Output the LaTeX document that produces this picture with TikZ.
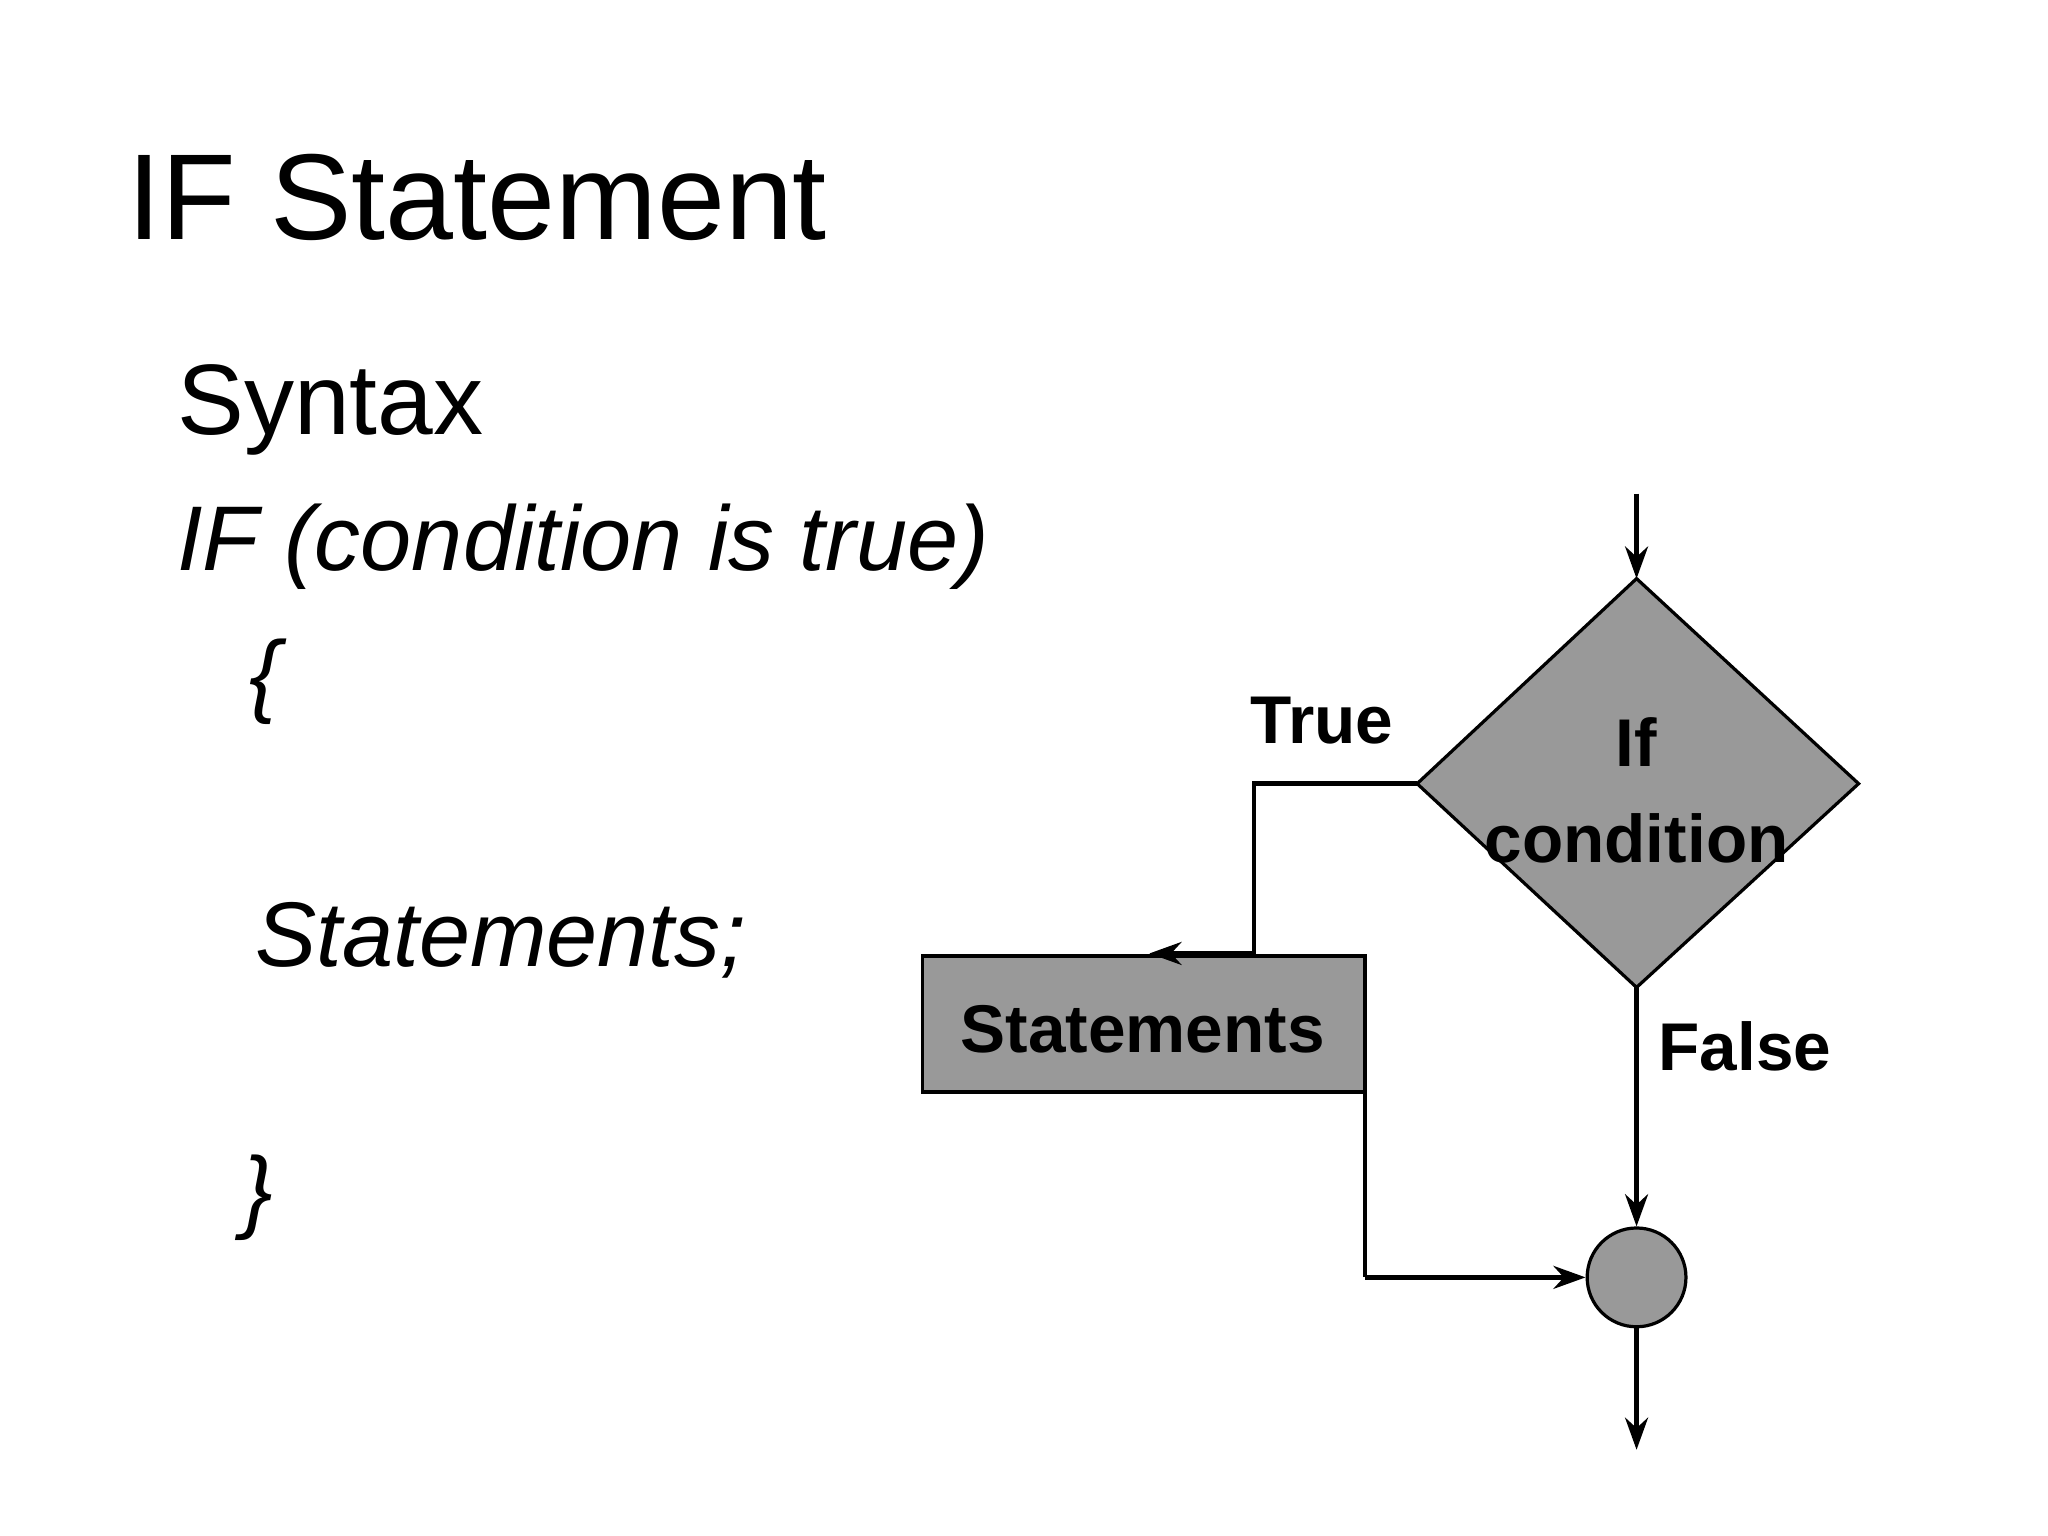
\documentclass[tikz,border=0pt]{standalone}
\usepackage{fontspec}
\setmainfont{Liberation Sans}
\usetikzlibrary{arrows.meta}
\begin{document}
\begin{tikzpicture}[x=0.01cm,y=-0.01cm,
  ln/.style={line width=1pt},
  arr/.style={ln,-{Stealth[length=7pt,width=5pt]}},
  shp/.style={draw,line width=0.7pt,fill=black!40},
  lbl/.style={font=\fontsize{14.7}{18}\selectfont\bfseries,align=center,inner sep=0pt},
  txt/.style={anchor=base west,inner sep=0pt}]
\useasboundingbox (0,0) rectangle (1568,1176);
\node[txt,font=\fontsize{26.6}{30}\selectfont] (title) at (97,183) {IF Statement};
\node[txt,font=\fontsize{21.8}{26}\selectfont] (syn) at (135,333) {Syntax};
\node[txt,font=\fontsize{20}{24}\selectfont\itshape] (ifl) at (135,437) {IF (condition is true)};
\node[txt,font=\fontsize{20}{24}\selectfont\itshape] (ob) at (190,540) {\{};
\node[txt,font=\fontsize{20}{24}\selectfont\itshape] (st) at (195,740) {Statements;};
\node[txt,font=\fontsize{20}{24}\selectfont\itshape] (cb) at (185,935) {\}};
% shapes
\draw[shp] (1253,443) -- (1423,600) -- (1253,756) -- (1085,600) -- cycle;
\coordinate (dtop) at (1253,443);
\coordinate (dbot) at (1253,756);
\coordinate (dleft) at (1085,600);
\node[lbl] (cond) at (1253,605) {If\\[3pt]condition};
\draw[shp] (706,732) rectangle (1045,836);
\node[lbl] (stm) at (875,788) {Statements};
\node[shp,circle,minimum size=76\pgflinewidth,inner sep=0pt,minimum size=2.16cm*0.35] (join) at (1253,978) {};
\coordinate (start) at (1253,378);
\coordinate (tin) at (880,730);
\coordinate (tout) at (880,836);
\coordinate (cl) at (1045,978);
\coordinate (endp) at (1253,1110);
% connectors
\draw[arr] (start) -- (dtop);
\draw[arr] (dleft) -- (960,600) -- (960,730) -- (tin);
\draw[ln] (tout) -- (1045,836) -- (cl);
\draw[arr] (cl) -- (join.west);
\draw[arr] (dbot) -- (join.north);
\draw[arr] (join.south) -- (endp);
\node[lbl] (tl) at (1012,552) {True};
\node[lbl] (fl) at (1336,801) {False};
\end{tikzpicture}
\end{document}
